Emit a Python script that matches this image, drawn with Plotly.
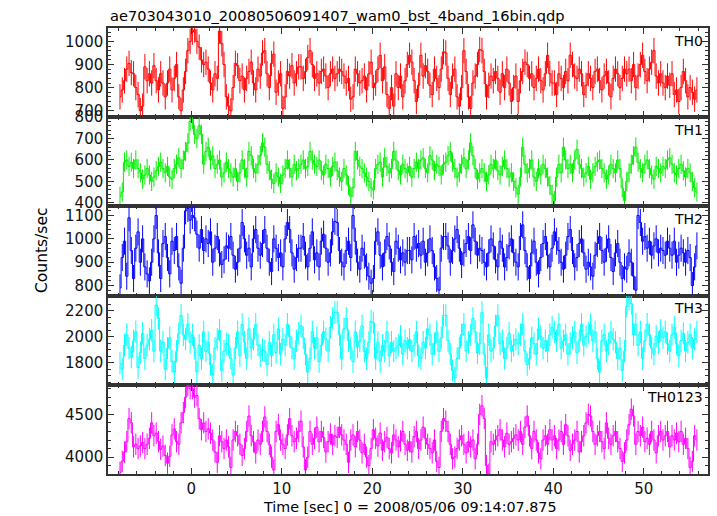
import numpy as np
import plotly.graph_objects as go
from plotly.subplots import make_subplots

# ---- data ----
T_START = -7.875
BIN = 0.25

TH0 = [760, 790, 830, 880, 905, 865, 860, 800, 770, 700, 720, 890, 830, 860, 820, 895,
       830, 790, 860, 820, 760, 820, 880, 790, 840, 900, 760, 700, 790, 870, 960, 1000,
       1040, 1050, 1000, 975, 920, 900, 910, 880, 820, 790, 860, 840, 1045, 990, 900, 760,
       720, 700, 800, 905, 895, 830, 850, 790, 840, 870, 910, 820, 790, 880, 850, 950,
       960, 860, 800, 905, 945, 780, 820, 860, 710, 760, 870, 850, 895, 820, 860, 890,
       890, 840, 870, 930, 960, 900, 840, 860, 820, 870, 880, 850, 800, 860, 880, 840,
       860, 880, 870, 850, 820, 840, 750, 760, 880, 860, 820, 830, 850, 790, 860, 910,
       800, 820, 880, 940, 830, 890, 770, 710, 800, 720, 860, 800, 850, 760, 830, 900,
       940, 910, 830, 740, 810, 940, 850, 895, 870, 810, 770, 880, 840, 800, 880, 955,
       950, 840, 770, 850, 880, 760, 720, 800, 960, 870, 760, 710, 820, 850, 900, 965,
       960, 870, 760, 810, 850, 830, 870, 840, 780, 860, 800, 880, 820, 740, 800, 850,
       740, 830, 870, 910, 900, 840, 860, 800, 840, 880, 830, 790, 860, 940, 860, 820,
       820, 770, 860, 840, 800, 870, 830, 940, 900, 850, 840, 880, 860, 770, 810, 860,
       840, 800, 870, 880, 830, 790, 850, 870, 820, 760, 840, 880, 860, 800, 840, 880,
       860, 880, 830, 900, 800, 850, 900, 940, 870, 830, 880, 910, 960, 850, 820, 860,
       820, 800, 850, 810, 860, 770, 790, 740, 800, 870, 830, 760, 800, 780, 750, 790]

TH1 = [430, 450, 590, 600, 570, 590, 560, 600, 560, 540, 510, 530, 560, 530, 500, 520,
       550, 570, 590, 560, 540, 570, 520, 510, 560, 580, 610, 560, 600, 640, 680, 780,
       790, 720, 700, 760, 720, 580, 640, 660, 600, 620, 560, 580, 600, 520, 540, 590,
       560, 540, 520, 560, 500, 540, 600, 560, 520, 640, 620, 560, 540, 580, 620, 680,
       660, 580, 550, 510, 490, 540, 520, 490, 530, 560, 600, 560, 520, 580, 550, 560,
       580, 600, 560, 570, 640, 600, 580, 570, 600, 550, 530, 580, 560, 520, 570, 590,
       550, 520, 500, 560, 530, 480, 430, 470, 640, 600, 570, 560, 540, 520, 500, 470,
       460, 560, 580, 590, 520, 610, 570, 540, 560, 640, 600, 550, 530, 580, 560, 540,
       570, 520, 560, 590, 560, 600, 610, 560, 540, 620, 600, 550, 580, 570, 530, 580,
       590, 620, 640, 590, 560, 520, 540, 580, 610, 560, 600, 680, 620, 560, 510, 540,
       560, 540, 500, 530, 580, 560, 600, 550, 530, 570, 600, 560, 520, 540, 500, 470,
       440, 520, 660, 580, 540, 560, 600, 520, 500, 560, 530, 580, 560, 520, 480, 440,
       410, 520, 580, 540, 660, 600, 560, 580, 540, 600, 650, 580, 560, 520, 540, 570,
       510, 540, 570, 590, 600, 560, 540, 510, 530, 580, 560, 540, 600, 560, 470, 410,
       500, 540, 580, 620, 660, 590, 560, 540, 580, 600, 560, 530, 510, 570, 560, 540,
       570, 560, 600, 610, 580, 540, 530, 560, 580, 550, 520, 560, 540, 500, 470, 450]

TH2 = [790, 920, 990, 840, 1090, 950, 830, 960, 1030, 900, 1000, 880, 850, 820, 900, 1000,
       1100, 940, 830, 980, 1010, 920, 850, 990, 950, 1010, 880, 810, 960, 1120, 1130, 1080,
       1100, 1090, 1020, 960, 1040, 950, 1000, 980, 1030, 900, 960, 1010, 940, 890, 910, 970,
       960, 1010, 930, 870, 900, 960, 1070, 1000, 930, 960, 880, 1000, 1040, 960, 930, 980,
       1040, 960, 900, 860, 1000, 960, 920, 940, 880, 1000, 1070, 1040, 940, 870, 920, 960,
       960, 1010, 930, 880, 960, 1030, 910, 940, 880, 990, 1020, 960, 900, 940, 1030, 1075,
       1070, 950, 900, 880, 950, 990, 920, 1100, 990, 900, 870, 960, 930, 880, 840, 810,
       830, 990, 1030, 930, 880, 940, 1010, 970, 900, 860, 990, 960, 910, 940, 900, 950,
       950, 910, 1010, 960, 980, 930, 990, 900, 940, 1000, 950, 880, 830, 780, 960, 1010,
       1010, 970, 900, 950, 1000, 1040, 960, 890, 940, 980, 1010, 950, 1060, 990, 930, 960,
       950, 900, 880, 940, 1000, 970, 910, 880, 990, 960, 880, 920, 970, 1000, 940, 900,
       880, 1010, 1060, 950, 880, 830, 940, 990, 900, 850, 920, 980, 1010, 930, 880, 960,
       1030, 990, 950, 900, 870, 930, 1010, 1040, 950, 880, 920, 980, 1000, 940, 870, 900,
       880, 840, 930, 980, 1010, 950, 900, 960, 1000, 920, 860, 940, 980, 900, 830, 880,
       870, 940, 900, 840, 780, 1100, 1070, 990, 1010, 960, 990, 930, 970, 1000, 940, 960,
       950, 930, 990, 960, 930, 990, 900, 930, 960, 940, 900, 950, 920, 800, 880, 970]

TH3 = [1797, 1751, 1934, 2015, 1912, 1843, 1969, 2037, 1763, 1877, 2026, 1832, 1934, 1980, 2049, 1889,
       2243, 2140, 1889, 1957, 1751, 1912, 1992, 1809, 1729, 1889, 2026, 2163, 2015, 1980, 2095, 1957,
       2015, 1912, 1729, 1934, 1832, 2037, 1889, 1957, 1786, 1706, 1912, 1980, 2049, 1740, 1889, 1946,
       1934, 1832, 1706, 1912, 2037, 1854, 2095, 1957, 1832, 2060, 1912, 1980, 2095, 1934, 1854, 1900,
       1889, 1786, 1957, 1854, 2015, 1877, 2060, 1866, 1980, 1934, 2095, 2003, 1912, 1832, 1969, 2026,
       2083, 1992, 1866, 1729, 1832, 2037, 1912, 1992, 1809, 1934, 2037, 1980, 1889, 2072, 2140, 2186,
       2186, 2015, 1832, 2060, 2140, 1969, 1912, 1809, 2037, 1923, 1969, 2083, 1889, 1832, 1957, 2118,
       2106, 1832, 1957, 1809, 1934, 1889, 2037, 1854, 1957, 1889, 1912, 1934, 2003, 1866, 1969, 1912,
       1980, 1889, 1934, 2037, 1854, 1832, 1957, 1912, 2060, 2015, 1866, 1946, 2037, 1889, 1992, 2163,
       2163, 1969, 1866, 1740, 1683, 1832, 1912, 2015, 2095, 1889, 1957, 2015, 2140, 2037, 1877, 1946,
       2186, 1866, 1683, 2015, 1889, 1912, 2083, 2163, 1946, 1969, 1832, 1912, 2026, 1889, 1934, 1980,
       1946, 2015, 2095, 1889, 1786, 1832, 1992, 1946, 1866, 2060, 2003, 1912, 1969, 1889, 2015, 2072,
       2037, 1969, 2095, 1912, 1969, 2015, 1866, 1946, 1992, 2037, 1877, 1969, 2095, 1934, 2003, 2026,
       2095, 1969, 2037, 1832, 1729, 1969, 2015, 1889, 1946, 2037, 1980, 1957, 1832, 1912, 1740, 1889,
       2232, 2289, 2255, 2015, 2095, 1934, 2037, 1832, 1969, 2095, 2015, 1912, 1866, 2003, 1957, 2049,
       1992, 2037, 1946, 1889, 2015, 2072, 1946, 1854, 1969, 2026, 1889, 1957, 2015, 1912, 1980, 2037]

TH0123 = [3820, 3950, 4060, 4180, 4450, 4400, 4120, 4150, 4100, 4130, 4170, 4100, 4150, 4220, 4400, 4250,
          4280, 4180, 4090, 4130, 4020, 3930, 4010, 4260, 4330, 4180, 4150, 4400, 4520, 4700, 4840, 4800,
          4800, 4700, 4720, 4450, 4320, 4400, 4300, 4330, 4280, 4200, 4060, 3940, 4250, 4180, 4100, 4200,
          4120, 3880, 4200, 4300, 4250, 4150, 4020, 4100, 4300, 4480, 4250, 4180, 4050, 4200, 4150, 4300,
          4470, 4300, 4150, 4000, 3850, 4300, 4380, 4200, 4150, 4100, 4260, 4450, 4250, 4180, 4220, 4300,
          4420, 4120, 3850, 4000, 4300, 4150, 4220, 4350, 4180, 4300, 4230, 4060, 4180, 4270, 4150, 4250,
          4230, 4350, 4260, 4200, 4150, 3940, 4200, 4260, 4120, 4300, 4200, 4050, 4150, 4000, 3900, 4100,
          4320, 4220, 4130, 4280, 4080, 4180, 4230, 4100, 4050, 4260, 4200, 4120, 4190, 4300, 4150, 4080,
          4180, 4060, 4240, 4300, 4100, 4200, 4350, 4220, 4150, 4100, 4050, 4200, 3950, 3880, 4300, 4450,
          4420, 4300, 4150, 3980, 4000, 4100, 4200, 4250, 4150, 4050, 4180, 4120, 4200, 3980, 4150, 4500,
          4600, 4450, 3900, 3800, 4180, 4150, 4200, 4250, 4320, 4200, 4120, 4280, 4150, 4180, 4220, 4260,
          4200, 4300, 4150, 4350, 4480, 4250, 4100, 4300, 4200, 4050, 3980, 4200, 4250, 4150, 4320, 4200,
          4250, 4100, 4200, 4300, 4150, 4380, 4250, 4080, 4150, 4200, 4300, 4060, 4180, 4250, 4400, 4500,
          4480, 4300, 4150, 4250, 4300, 4180, 4100, 4400, 4220, 4150, 4250, 4300, 4180, 4100, 3950, 4050,
          4200, 4380, 4560, 4480, 4150, 4300, 4250, 4350, 4180, 4220, 4150, 4300, 4200, 4050, 4250, 4300,
          4200, 4250, 4300, 4120, 4250, 4200, 4280, 4180, 4300, 4150, 4220, 4100, 3880, 3950, 4250, 4200]

SERIES = [TH0, TH1, TH2, TH3, TH0123]
NAMES = ["TH0", "TH1", "TH2", "TH3", "TH0123"]
ERRORS = [55, 45, 58, 86, 125]
COLORS = ["#ff0000", "#00ee00", "#0000ff", "#00ffff", "#ff00ff"]
Y_RANGES = [[672, 1058], [383, 800], [757, 1139], [1631, 2315], [3803, 4845]]
Y_DTICK = [100, 100, 100, 200, 500]
Y_MINOR = [20, 20, 20, 50, 100]
X_RANGE = [-9.2, 57.1]

TITLE = "ae703043010_20080506091407_wam0_bst_4band_16bin.qdp"
XTITLE = "Time [sec] 0 = 2008/05/06 09:14:07.875"
YTITLE = "Counts/sec"

times = T_START + BIN * np.arange(len(TH0))

FONT = "DejaVu Sans, Verdana, sans-serif"

fig = make_subplots(rows=5, cols=1, shared_xaxes=True, vertical_spacing=0)

for i, (vals, name, err, col) in enumerate(zip(SERIES, NAMES, ERRORS, COLORS)):
    fig.add_trace(go.Scatter(
        x=times, y=vals, mode="lines", line=dict(color=col, width=1, shape="hvh"),
        error_y=dict(type="constant", value=err, color=col, thickness=1, width=0),
        showlegend=False, hoverinfo="skip"), row=i + 1, col=1)
    r = i + 1
    fig.update_yaxes(range=Y_RANGES[i], dtick=Y_DTICK[i], ticks="inside", ticklen=6,
                     tickwidth=1, tickcolor="#333", showline=True, linecolor="#333",
                     linewidth=1.5, mirror="ticks", showgrid=False, zeroline=False,
                     tickfont=dict(family=FONT, size=15, color="#111"),
                     minor=dict(ticks="inside", ticklen=3, dtick=Y_MINOR[i], tickcolor="#333"),
                     row=r, col=1)
    fig.update_xaxes(range=X_RANGE, dtick=10, tick0=0, ticks="inside", ticklen=6,
                     tickwidth=1, tickcolor="#333", showline=True, linecolor="#333",
                     linewidth=1.5, mirror="ticks", showgrid=False, zeroline=False,
                     showticklabels=(r == 5),
                     tickfont=dict(family=FONT, size=15, color="#111"),
                     minor=dict(ticks="inside", ticklen=3, dtick=2, tickcolor="#333"),
                     row=r, col=1)
    yref = "y domain" if r == 1 else f"y{r} domain"
    fig.add_annotation(text=name, xref="paper", yref=yref, x=0.995, y=0.97,
                       xanchor="right", yanchor="top", showarrow=False,
                       font=dict(family=FONT, size=14, color="#000"))

fig.add_annotation(text=TITLE, xref="paper", yref="paper", x=0, y=1.029,
                   xanchor="left", yanchor="middle", showarrow=False,
                   font=dict(family=FONT, size=14.6, color="#000"))
fig.add_annotation(text=XTITLE, xref="paper", yref="paper", x=0.503, y=-0.073,
                   xanchor="center", yanchor="middle", showarrow=False,
                   font=dict(family=FONT, size=14.3, color="#000"))
fig.add_annotation(text=YTITLE, xref="paper", yref="paper", x=-0.11, y=0.5,
                   xanchor="center", yanchor="middle", textangle=-90, showarrow=False,
                   font=dict(family=FONT, size=15.5, color="#000"))

fig.update_layout(width=717, height=516, margin=dict(l=108, r=7, t=28, b=42),
                  paper_bgcolor="white", plot_bgcolor="white")

# remove the default 8px page margin so the figure sits at the window's top-left corner
fig.write_html("out.html", config={"displayModeBar": False},
               post_script="document.body.style.margin='0px';document.body.style.overflow='hidden';")
